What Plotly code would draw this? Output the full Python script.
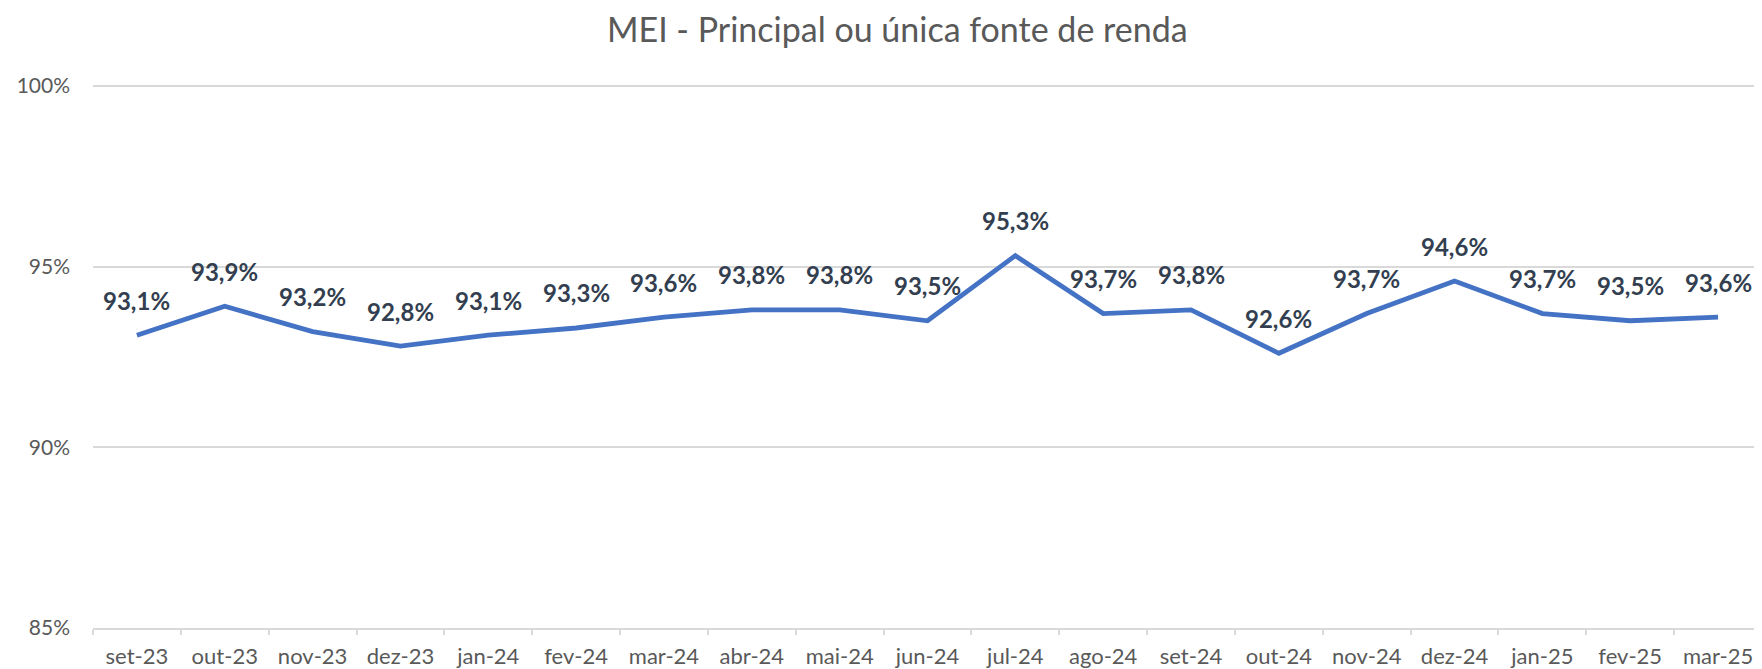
import plotly.graph_objects as go

months = ["set-23", "out-23", "nov-23", "dez-23", "jan-24", "fev-24", "mar-24", "abr-24",
          "mai-24", "jun-24", "jul-24", "ago-24", "set-24", "out-24", "nov-24", "dez-24",
          "jan-25", "fev-25", "mar-25"]
values = [93.1, 93.9, 93.2, 92.8, 93.1, 93.3, 93.6, 93.8, 93.8, 93.5, 95.3, 93.7, 93.8,
          92.6, 93.7, 94.6, 93.7, 93.5, 93.6]
labels = [f"{v:.1f}%".replace(".", ",") for v in values]
y_ticks = [85, 90, 95, 100]
y_tick_text = ["85%", "90%", "95%", "100%"]

FONT = "Lato"

fig = go.Figure()
fig.add_trace(go.Scatter(
    x=months, y=values, mode="lines",
    line=dict(color="#4472C4", width=4.8),
    hoverinfo="skip", showlegend=False,
))

for m, v, t in zip(months, values, labels):
    fig.add_annotation(x=m, y=v, text=f"<b>{t}</b>", showarrow=False,
                       yshift=35, xanchor="center", yanchor="middle",
                       font=dict(family=FONT, size=24, color="#333F50"))

# page has an 8px body margin; sizes compensate for it
fig.update_layout(
    width=1754, height=661,
    margin=dict(l=85, r=0, t=76, b=41),
    plot_bgcolor="white", paper_bgcolor="white",
    title=dict(text="MEI - Principal ou única fonte de renda", x=0.507, xanchor="center",
               y=1 - 22 / 661, yanchor="middle", yref="container",
               font=dict(family=FONT, size=34, color="#595959")),
    xaxis=dict(
        type="category", showgrid=False, showline=True, linecolor="#D9D9D9", linewidth=1.5,
        ticks="outside", tickson="boundaries", ticklen=5, tickcolor="#D9D9D9", tickwidth=1.5,
        tickfont=dict(family=FONT, size=22, color="#595959"),
        ticklabelstandoff=8, automargin=False,
        range=[-0.5, len(months) - 0.5],
    ),
    yaxis=dict(
        range=[85, 100.05], tickvals=y_ticks, ticktext=y_tick_text,
        showgrid=True, gridcolor="#D9D9D9", gridwidth=1.5, zeroline=False, showline=False,
        tickfont=dict(family=FONT, size=21, color="#595959"),
        ticklabelstandoff=22, automargin=False,
    ),
)

fig.write_html("out.html")
